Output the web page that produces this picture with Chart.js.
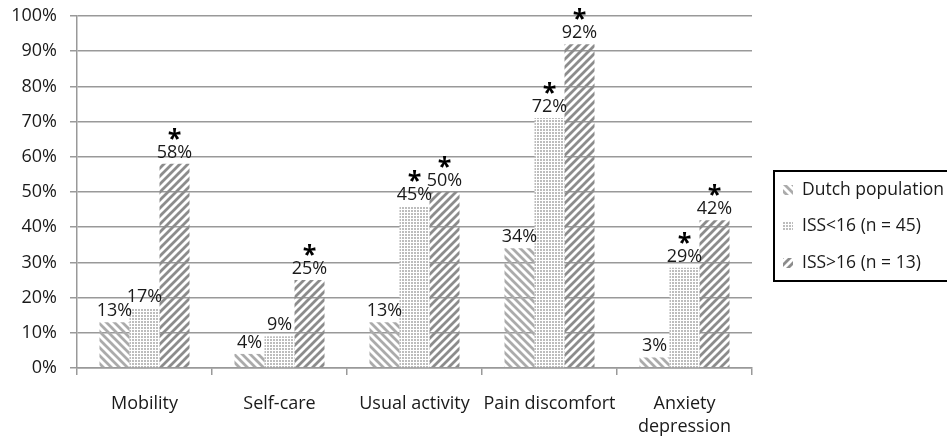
<!DOCTYPE html>
<html>
<head>
<meta charset="utf-8">
<script src="https://cdn.jsdelivr.net/npm/chart.js@4"></script>
<style>
  html, body { margin: 0; padding: 0; background: #fff; }
  canvas { display: block; }
</style>
</head>
<body>
<canvas id="chart" width="947" height="437"></canvas>
<script>
// Data
const categories = ['Mobility', 'Self-care', 'Usual activity', 'Pain discomfort', ['Anxiety', 'depression']];
const seriesNames = ['Dutch population', 'ISS<16 (n = 45)', 'ISS>16 (n = 13)'];
const dutchValues = [13, 4, 13, 34, 3];
const iss16Values = [17, 9, 46, 71, 28.5];
const issOver16Values = [58, 25, 50, 92, 42];
const dutchLabels = ['13%', '4%', '13%', '34%', '3%'];
const iss16Labels = ['17%', '9%', '45%', '72%', '29%'];
const issOver16Labels = ['58%', '25%', '50%', '92%', '42%'];
// asterisk = significant difference vs Dutch population
const iss16Sig = [false, false, true, true, true];
const issOver16Sig = [true, true, true, true, true];
const yTicks = [0, 10, 20, 30, 40, 50, 60, 70, 80, 90, 100];

const FONT = '"Open Sans", "Noto Sans", sans-serif';

// hatch patterns
function stripes(dir, color) {
  const c = document.createElement('canvas');
  c.width = 8; c.height = 8;
  const g = c.getContext('2d');
  g.strokeStyle = color;
  g.lineWidth = 2.8;
  g.beginPath();
  if (dir === '/') {
    g.moveTo(-2, 10); g.lineTo(10, -2);
    g.moveTo(-2, 2); g.lineTo(2, -2);
    g.moveTo(6, 10); g.lineTo(10, 6);
  } else {
    g.moveTo(-2, -2); g.lineTo(10, 10);
    g.moveTo(-2, 6); g.lineTo(2, 10);
    g.moveTo(6, -2); g.lineTo(10, 2);
  }
  g.stroke();
  return g.createPattern(c, 'repeat');
}
function dots(color) {
  const c = document.createElement('canvas');
  c.width = 3; c.height = 3;
  const g = c.getContext('2d');
  g.fillStyle = '#fff';
  g.fillRect(0, 0, 3, 3);
  g.fillStyle = color;
  g.fillRect(0, 0, 2, 2);
  return g.createPattern(c, 'repeat');
}

const fills = [stripes('\\', '#ababab'), dots('#bdbdbd'), stripes('/', '#8c8c8c')];
const valueLabels = [dutchLabels, iss16Labels, issOver16Labels];
const sigMarks = [[false, false, false, false, false], iss16Sig, issOver16Sig];

const barLabels = {
  id: 'barLabels',
  afterDatasetsDraw(chart) {
    const ctx = chart.ctx;
    ctx.save();
    ctx.textAlign = 'center';
    ctx.textBaseline = 'alphabetic';
    chart.data.datasets.forEach((ds, i) => {
      chart.getDatasetMeta(i).data.forEach((bar, j) => {
        ctx.fillStyle = '#1a1a1a';
        ctx.font = '18px ' + FONT;
        const base = bar.y - 6;
        ctx.fillText(valueLabels[i][j], bar.x, base);
        if (sigMarks[i][j]) {
          ctx.font = 'bold 25px ' + FONT;
          ctx.fillStyle = '#000';
          ctx.fillText('*', bar.x, base - 11);
        }
      });
    });
    ctx.restore();
  }
};

const boxLegend = {
  id: 'boxLegend',
  afterDraw(chart) {
    const ctx = chart.ctx;
    ctx.save();
    ctx.strokeStyle = '#000';
    ctx.lineWidth = 2;
    ctx.strokeRect(774, 171, 190, 110);
    const rows = [190, 226, 263];
    ctx.font = '17.5px ' + FONT;
    ctx.textBaseline = 'middle';
    ctx.textAlign = 'left';
    seriesNames.forEach((name, i) => {
      ctx.fillStyle = fills[i];
      ctx.fillRect(783, rows[i] - 5, 10, 10);
      ctx.fillStyle = '#1a1a1a';
      ctx.fillText(name, 802, rows[i]);
    });
    ctx.restore();
  }
};

const datasets = [dutchValues, iss16Values, issOver16Values].map((vals, i) => ({
  label: seriesNames[i],
  data: vals,
  backgroundColor: fills[i],
  borderWidth: 0,
  categoryPercentage: 0.667,
  barPercentage: 1.0
}));

new Chart(document.getElementById('chart'), {
  type: 'bar',
  data: { labels: categories, datasets },
  options: {
    responsive: false,
    animation: false,
    layout: { padding: { top: 16, right: 195, left: 0, bottom: 0 } },
    plugins: { legend: { display: false }, tooltip: { enabled: false } },
    scales: {
      x: {
        afterFit: s => { s.height = 69; s.paddingLeft = 0; s.paddingRight = 0; },
        grid: { offset: true, drawOnChartArea: false, drawTicks: true, tickLength: 7, color: '#999', lineWidth: 1.5 },
        border: { color: '#999', width: 1.5 },
        ticks: { color: '#1a1a1a', font: { family: FONT, size: 18, lineHeight: 1.28 }, padding: 17, maxRotation: 0, autoSkip: false }
      },
      y: {
        min: 0,
        max: 100,
        afterFit: s => { s.width = 77; s.paddingTop = 0; s.paddingBottom = 0; },
        afterBuildTicks: s => { s.ticks = yTicks.map(v => ({ value: v })); },
        grid: { color: '#999', lineWidth: 1.5, tickLength: 7 },
        border: { color: '#999', width: 1.5 },
        ticks: { color: '#1a1a1a', font: { family: FONT, size: 18 }, padding: 13, callback: v => v + '%' }
      }
    }
  },
  plugins: [barLabels, boxLegend]
});
</script>
</body>
</html>
